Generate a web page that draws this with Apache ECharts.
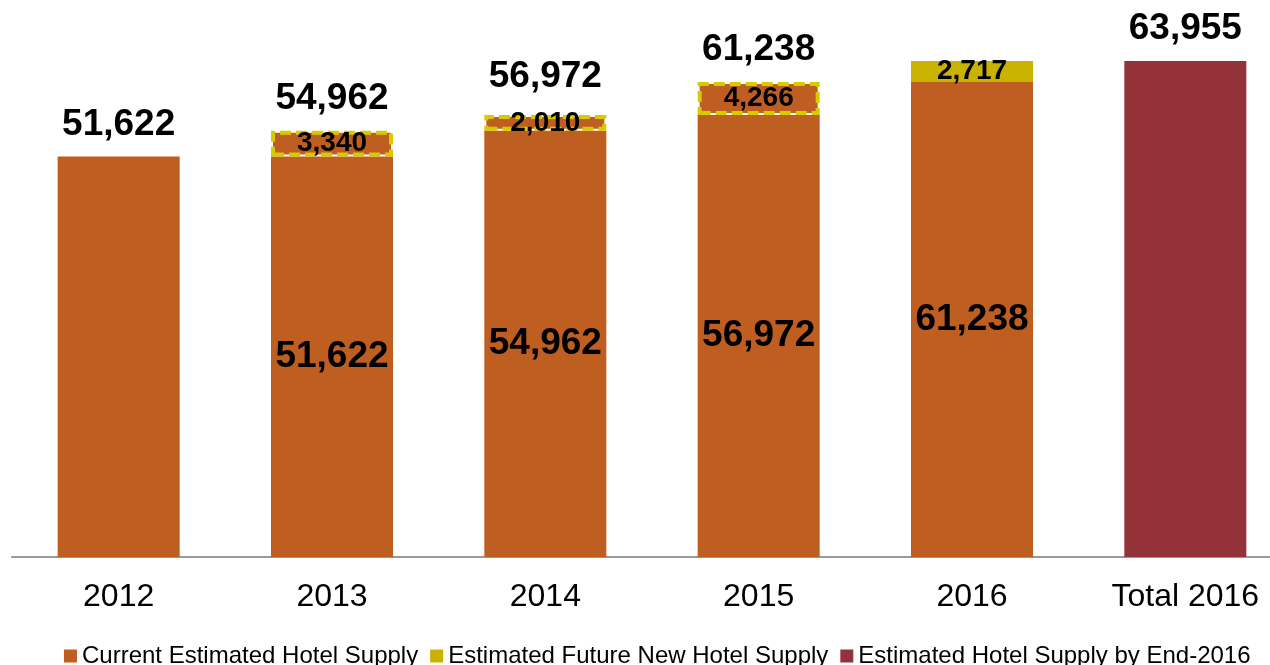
<!DOCTYPE html>
<html>
<head>
<meta charset="utf-8">
<script src="https://cdn.jsdelivr.net/npm/echarts@6/dist/echarts.min.js"></script>
<style>
  html, body { margin: 0; padding: 0; background: #fff; }
  #chart { width: 1270px; height: 665px; }
</style>
</head>
<body>
<div id="chart"></div>
<script>
// Hotel room supply by year
const categories = ['2012', '2013', '2014', '2015', '2016', 'Total 2016'];
const currentSupply = [51622, 51622, 54962, 56972, 61238, null];
const newSupply = [null, 3340, 2010, 4266, 2717, null];
const endSupply = [null, null, null, null, null, 63955];
const totals = [51622, 54962, 56972, 61238, null, 63955];
const seriesNames = [
  'Current Estimated Hotel Supply',
  'Estimated Future New Hotel Supply',
  'Estimated Hotel Supply by End-2016'
];

const ORANGE = '#BE5E20';
const YELLOW = '#C9B200';
const WINE = '#94323A';
const FONT = '"Liberation Sans", Arial, sans-serif';

const fmt = v => Number(v).toLocaleString('en-US');

// Additions already delivered (before 2016) are part of the current stock:
// orange fill with a dashed yellow outline.
const deliveredStyle = {
  color: ORANGE,
  borderColor: '#D6CA00',
  borderWidth: 4,
  borderType: [11, 5]
};

const newData = newSupply.map((v, i) =>
  v != null && categories[i] < '2016' ? { value: v, itemStyle: deliveredStyle } : v
);

const totalData = totals.map((v, i) =>
  categories[i] === '2014' ? { value: v, label: { offset: [0, -6] } } : v
);

const chart = echarts.init(document.getElementById('chart'));
chart.setOption({
  animation: false,
  textStyle: { fontFamily: FONT },
  grid: {
    left: 12, width: 1280, top: 14, bottom: 108,
    containLabel: false, outerBoundsMode: 'none'
  },
  legend: {
    data: seriesNames,
    left: 59,
    top: 639,
    icon: 'rect',
    itemWidth: 13,
    itemHeight: 13,
    itemGap: 12,
    textStyle: { fontSize: 24, color: '#000', fontFamily: FONT }
  },
  xAxis: {
    type: 'category',
    data: categories,
    axisLine: { lineStyle: { color: '#999', width: 2 } },
    axisTick: { show: false },
    axisLabel: { fontSize: 32, color: '#000', margin: 24, fontFamily: FONT }
  },
  yAxis: {
    type: 'value',
    min: 0,
    max: 70000,
    show: false,
    splitLine: { show: false }
  },
  series: [
    {
      name: seriesNames[0],
      type: 'bar',
      stack: 'supply',
      barWidth: 122,
      itemStyle: { color: ORANGE },
      data: currentSupply,
      label: {
        show: true,
        position: 'inside',
        fontSize: 37,
        fontWeight: 'bold',
        color: '#000',
        fontFamily: FONT,
        formatter: p => (p.dataIndex === 0 ? '' : fmt(p.value))
      }
    },
    {
      name: seriesNames[1],
      type: 'bar',
      stack: 'supply',
      barWidth: 122,
      itemStyle: { color: YELLOW },
      data: newData,
      label: {
        show: true,
        position: 'inside',
        fontSize: 28,
        fontWeight: 'bold',
        color: '#000',
        overflow: 'none',
        fontFamily: FONT,
        formatter: p => fmt(p.value)
      }
    },
    {
      name: seriesNames[2],
      type: 'bar',
      stack: 'supply',
      barWidth: 122,
      itemStyle: { color: WINE },
      data: endSupply
    },
    {
      name: 'Total',
      type: 'scatter',
      symbolSize: 1,
      itemStyle: { color: 'rgba(0,0,0,0)', opacity: 1 },
      data: totalData,
      z: 10,
      label: {
        show: true,
        position: 'top',
        distance: 13,
        fontSize: 37,
        fontWeight: 'bold',
        color: '#000',
        fontFamily: FONT,
        formatter: p => fmt(p.value)
      }
    }
  ]
});
</script>
</body>
</html>
